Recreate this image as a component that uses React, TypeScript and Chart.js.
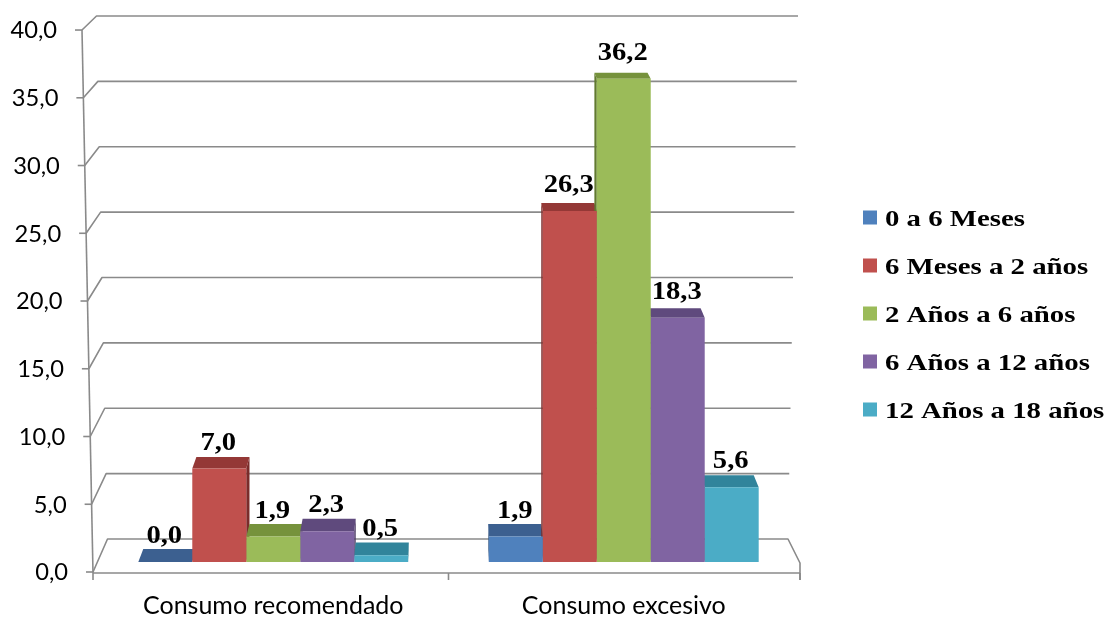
import { useEffect, useRef } from "react";
import { Chart, registerables } from "chart.js";

Chart.register(...registerables);

// Categories (x axis) and age-group series
const categories = ["Consumo recomendado", "Consumo excesivo"];
const seriesNames = [
  "0 a 6 Meses",
  "6 Meses a 2 años",
  "2 Años a 6 años",
  "6 Años a 12 años",
  "12 Años a 18 años",
];
const edad0a6Meses = [0.0, 1.9];
const edad6Mesesa2 = [7.0, 26.3];
const edad2a6 = [1.9, 36.2];
const edad6a12 = [2.3, 18.3];
const edad12a18 = [0.5, 5.6];
const seriesValues = [edad0a6Meses, edad6Mesesa2, edad2a6, edad6a12, edad12a18];

// Value-axis tick values
const yTickValues = [0, 5, 10, 15, 20, 25, 30, 35, 40];

// Office palette: front face, top face and side face of each 3D column
const frontColors = ["#4f81bd", "#c0504d", "#9bbb59", "#8064a2", "#4bacc6"];
const topColors = ["#3c6090", "#943836", "#76923c", "#5f4a7d", "#31849b"];
const sideColors = ["#2f4d74", "#7a2c2a", "#617a30", "#4c3b64", "#296f83"];

const fmt = (v: number) => v.toFixed(1).replace(".", ",");

const GRID_COLOR = "#8a8a8a";
const SERIF = "'Liberation Serif', 'Times New Roman', Times, serif";

// Draws the 3D walls, floor, slanted axis and the depth faces of the columns
const threeD = {
  id: "threeD",
  beforeDatasetsDraw(chart: any) {
    const { ctx, chartArea } = chart;
    const y2 = chart.scales.y2;
    const bottom = chartArea.bottom;
    const topV = y2.getPixelForValue(40);
    const span = bottom - topV;
    const axX = (py: number) => chartArea.left - 5 - ((bottom - py) / span) * 11;
    const backY = (py: number) => bottom - 33 - (bottom - py) * 0.965;
    const backRightX = (py: number) => chartArea.right - 11 + ((bottom - py) / span) * 10;

    ctx.save();
    ctx.strokeStyle = GRID_COLOR;
    ctx.lineWidth = 1.6;
    ctx.lineJoin = "round";

    // back-wall gridlines with their diagonal run to the front axis
    y2.ticks.forEach((t: any) => {
      const py = y2.getPixelForValue(t.value);
      const fx = axX(py);
      const by = backY(py);
      ctx.beginPath();
      ctx.moveTo(fx, py);
      ctx.lineTo(fx + 14.5, by);
      ctx.lineTo(backRightX(py), by);
      if (t.value === 0) {
        ctx.lineTo(chartArea.right + 1, bottom - 9);
        ctx.lineTo(chartArea.right + 1, bottom + 8);
      }
      ctx.stroke();
      // tick mark
      ctx.beginPath();
      ctx.moveTo(fx - 7, py);
      ctx.lineTo(fx, py);
      ctx.stroke();
    });

    // front value axis
    ctx.beginPath();
    ctx.moveTo(axX(topV), topV);
    ctx.lineTo(axX(bottom), bottom + 1);
    ctx.stroke();

    // floor front edge and category ticks
    const fy = bottom + 1;
    ctx.beginPath();
    ctx.moveTo(axX(bottom), fy);
    ctx.lineTo(chartArea.right + 1, fy);
    ctx.stroke();
    const xs = [axX(bottom), (chartArea.left + chartArea.right) / 2, chartArea.right + 1];
    xs.forEach((x) => {
      ctx.beginPath();
      ctx.moveTo(x, fy);
      ctx.lineTo(x, fy + 7);
      ctx.stroke();
    });

    // value tick labels along the slanted axis
    ctx.fillStyle = "#000";
    ctx.font = "23px Lato";
    ctx.textAlign = "right";
    ctx.textBaseline = "middle";
    y2.ticks.forEach((t: any) => {
      const py = y2.getPixelForValue(t.value);
      ctx.save();
      ctx.translate(axX(py) - 25, py + 1);
      ctx.scale(1.03, 1);
      ctx.fillText(fmt(t.value), 0, 0);
      ctx.restore();
    });

    // top and side faces of the columns
    const vp = (chartArea.left + chartArea.right) / 2;
    const k = 0.016;
    const depth = (py: number) => 6 + (py - 78) * 0.0145;
    chart.data.datasets.forEach((ds: any, i: number) => {
      const meta = chart.getDatasetMeta(i);
      meta.data.forEach((el: any) => {
        const xL = el.x - el.width / 2;
        const xR = el.x + el.width / 2;
        const yT = el.y;
        const base = el.base;
        const dxL = (vp - xL) * k;
        const dxR = (vp - xR) * k;
        const d = depth(yT);
        const dB = depth(base);
        ctx.fillStyle = sideColors[i];
        if (dxR > 0) {
          ctx.beginPath();
          ctx.moveTo(xR, yT);
          ctx.lineTo(xR + dxR, yT - d);
          ctx.lineTo(xR + dxR, base - dB);
          ctx.lineTo(xR, base);
          ctx.closePath();
          ctx.fill();
        }
        if (dxL < 0) {
          ctx.beginPath();
          ctx.moveTo(xL, yT);
          ctx.lineTo(xL + dxL, yT - d);
          ctx.lineTo(xL + dxL, base - dB);
          ctx.lineTo(xL, base);
          ctx.closePath();
          ctx.fill();
        }
        ctx.fillStyle = topColors[i];
        ctx.beginPath();
        ctx.moveTo(xL, yT);
        ctx.lineTo(xR, yT);
        ctx.lineTo(xR + dxR, yT - d);
        ctx.lineTo(xL + dxL, yT - d);
        ctx.closePath();
        ctx.fill();
      });
    });
    ctx.restore();
  },
  afterDatasetsDraw(chart: any) {
    const { ctx, chartArea } = chart;
    ctx.save();
    // value labels above each column
    ctx.fillStyle = "#000";
    ctx.font = `bold 26px ${SERIF}`;
    ctx.textAlign = "center";
    ctx.textBaseline = "alphabetic";
    chart.data.datasets.forEach((ds: any, i: number) => {
      chart.getDatasetMeta(i).data.forEach((el: any, j: number) => {
        ctx.save();
        ctx.translate(el.x - 1, el.y - 19);
        ctx.scale(1.1, 1);
        ctx.fillText(fmt(ds.data[j]), 0, 0);
        ctx.restore();
      });
    });

    // legend
    const rowGap = 48;
    const n = chart.data.datasets.length;
    const startY = chart.height / 2 - ((n - 1) / 2) * rowGap + 4;
    const boxX = chartArea.right + 64;
    ctx.font = `bold 24px ${SERIF}`;
    ctx.textAlign = "left";
    chart.data.datasets.forEach((ds: any, i: number) => {
      const cy = startY + i * rowGap;
      ctx.fillStyle = ds.backgroundColor;
      ctx.fillRect(boxX, cy - 7, 14, 14);
      ctx.fillStyle = "#000";
      ctx.save();
      ctx.translate(boxX + 22, cy + 8);
      ctx.scale(1.2, 1);
      ctx.fillText(ds.label, 0, 0);
      ctx.restore();
    });
    ctx.restore();
  },
};

export default function App() {
  const canvasRef = useRef<HTMLCanvasElement | null>(null);

  useEffect(() => {
    if (!canvasRef.current) return;
    const chart = new Chart(canvasRef.current, {
      type: "bar",
      data: {
        labels: categories,
        datasets: seriesNames.map((name, i) => ({
          label: name,
          data: seriesValues[i],
          backgroundColor: frontColors[i],
          borderWidth: 0,
          yAxisID: "y",
          barPercentage: 1,
          categoryPercentage: 0.77,
        })),
      },
      options: {
        responsive: false,
        animation: false,
        layout: { padding: { top: 28, left: 0, right: 0, bottom: 0 } },
        plugins: {
          legend: { display: false },
          tooltip: { enabled: false },
        },
        scales: {
          x: {
            type: "category",
            grid: { display: false, drawTicks: false },
            border: { display: false },
            ticks: {
              color: "#000",
              font: { family: "Lato", size: 25 },
              padding: 19,
            },
            afterFit: (s: any) => {
              s.height = 47;
            },
          },
          y: {
            display: false,
            min: -0.75,
            max: 40,
          },
          y2: {
            position: "left",
            display: true,
            min: 0,
            max: 40.15,
            grid: { display: false },
            border: { display: false },
            ticks: { display: false },
            afterBuildTicks: (s: any) => {
              s.ticks = yTickValues.map((v) => ({ value: v }));
            },
            afterFit: (s: any) => {
              s.width = 98;
            },
          },
          yR: {
            position: "right",
            display: true,
            grid: { display: false },
            border: { display: false },
            ticks: { display: false },
            afterFit: (s: any) => {
              s.width = 311;
            },
          },
        },
      },
      plugins: [threeD],
    });
    return () => chart.destroy();
  }, []);

  return (
    <div
      style={{
        position: "fixed",
        left: 0,
        top: 0,
        width: 1110,
        height: 619,
        background: "#fff",
      }}
    >
      <canvas ref={canvasRef} width={1110} height={619} />
    </div>
  );
}
